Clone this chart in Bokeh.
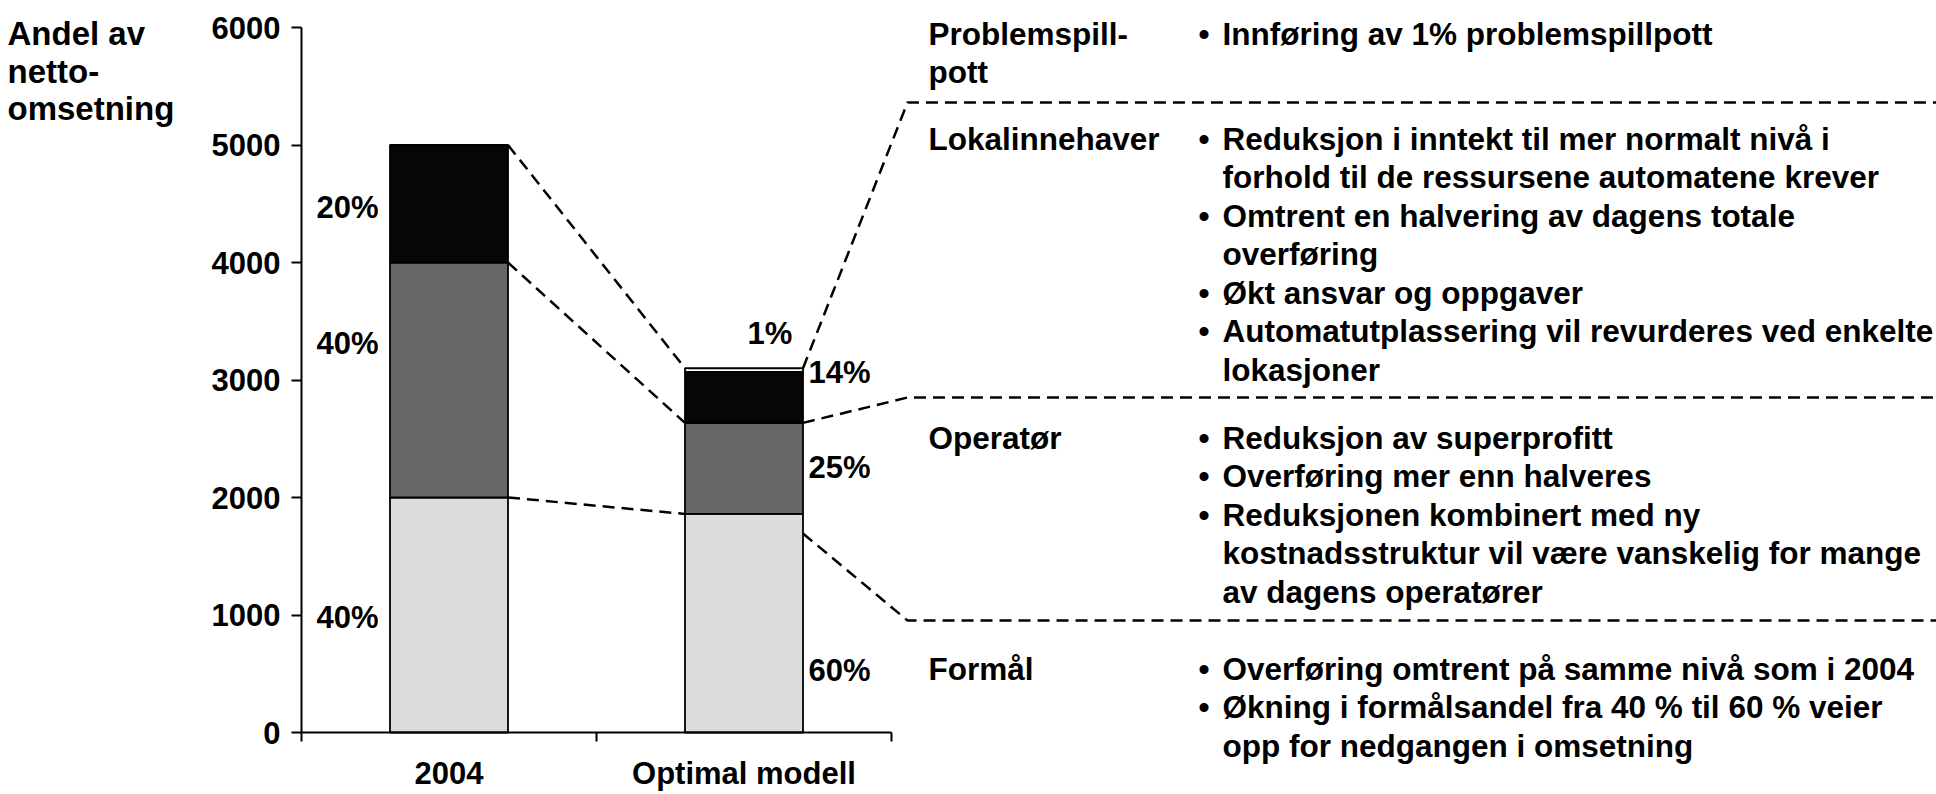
from bokeh.plotting import figure
from bokeh.models import Range1d, LinearAxis, FixedTicker, ColumnDataSource
from bokeh.embed import file_html
from bokeh.resources import INLINE
from bokeh.core.properties import value

# ---------------- data ----------------
categories = ["2004", "Optimal modell"]
formal = [2000, 1860]          # Formål
operator = [2000, 775]         # Operatør
lokal = [1000, 434]            # Lokalinnehaver
pott = [0, 31]                 # Problemspillpott
y_ticks = [0, 1000, 2000, 3000, 4000, 5000, 6000]
y_title = ["Andel av", "netto-", "omsetning"]

groups = ["Problemspill-\npott", "Lokalinnehaver", "Operatør", "Formål"]
bullets = [
    [["Innføring av 1% problemspillpott"]],
    [["Reduksjon i inntekt til mer normalt nivå i", "forhold til de ressursene automatene krever"],
     ["Omtrent en halvering av dagens totale", "overføring"],
     ["Økt ansvar og oppgaver"],
     ["Automatutplassering vil revurderes ved enkelte", "lokasjoner"]],
    [["Reduksjon av superprofitt"],
     ["Overføring mer enn halveres"],
     ["Reduksjonen kombinert med ny", "kostnadsstruktur vil være vanskelig for mange", "av dagens operatører"]],
    [["Overføring omtrent på samme nivå som i 2004"],
     ["Økning i formålsandel fra 40 % til 60 % veier", "opp for nedgangen i omsetning"]],
]

# ---------------- layout ----------------
W, H = 1936, 794
AX_X = 301          # pixel column of the value axis
AX_Y0 = 732         # pixel row of value 0
PX_PER_K = 117.5    # pixels per 1000
SLOT = 295          # pixels per category slot
BAR_W = 0.4
FONT = value("Liberation Sans")
FS = "31px"
FS_R = "31.5px"
FS_T = "33px"
DASH = "12 7"
DW = 2.5


def X(px):
    return (px - AX_X) / SLOT


def Y(py):
    return (AX_Y0 - py) / PX_PER_K * 1000.0


p = figure(width=W, height=H, output_backend="svg", toolbar_location=None,
           x_axis_type=None, y_axis_type=None,
           x_range=Range1d(X(0), X(W)), y_range=Range1d(Y(H), Y(0)),
           min_border=0, min_border_left=0, min_border_right=0,
           min_border_top=0, min_border_bottom=0)
p.outline_line_color = None
p.background_fill_color = "white"
p.border_fill_color = "white"
p.grid.visible = False

# ---------------- bars ----------------
xs = [i + 0.5 for i in range(len(categories))]
src = ColumnDataSource(dict(x=xs, formal=formal, operator=operator, lokal=lokal, pott=pott))
seg_names = ["formal", "operator", "lokal", "pott"]
seg_colors = ["#dcdcdc", "#676767", "#060606", "#ffffff"]
p.vbar_stack(seg_names, x="x", width=BAR_W, color=seg_colors, line_color="black",
             line_width=1.8, source=src)

# ---------------- axes ----------------
yaxis = LinearAxis(ticker=FixedTicker(ticks=y_ticks, minor_ticks=[]),
                   fixed_location=0, bounds=(y_ticks[0], y_ticks[-1]),
                   major_tick_out=10, major_tick_in=0, minor_tick_out=0, minor_tick_in=0,
                   major_tick_line_width=2, axis_line_width=2,
                   major_label_standoff=11,
                   major_label_text_font="Liberation Sans",
                   major_label_text_font_style="bold",
                   major_label_text_font_size=FS,
                   major_label_text_color="black")
p.add_layout(yaxis, "left")

xaxis = LinearAxis(ticker=FixedTicker(ticks=xs, minor_ticks=list(range(len(categories) + 1))),
                   fixed_location=0, bounds=(0, len(categories)),
                   major_label_overrides={x: c for x, c in zip(xs, categories)},
                   major_tick_out=0, major_tick_in=0,
                   minor_tick_out=9, minor_tick_in=0, minor_tick_line_width=2,
                   axis_line_width=2, major_label_standoff=14,
                   major_label_text_font="Liberation Sans",
                   major_label_text_font_style="bold",
                   major_label_text_font_size=FS,
                   major_label_text_color="black")
p.add_layout(xaxis, "below")

# ---------------- percentage labels ----------------
tot = [f + o + l + q for f, o, l, q in zip(formal, operator, lokal, pott)]
pct = lambda v, t: f"{round(100 * v / t)}%"
lab_x, lab_y, lab_t = [], [], []
for v, cy in zip([formal[0], operator[0], lokal[0]], [617, 343, 207]):
    lab_x.append(X(316)); lab_y.append(Y(cy)); lab_t.append(pct(v, tot[0]))
for v, cy in zip([formal[1], operator[1], lokal[1]], [670, 467, 372]):
    lab_x.append(X(808)); lab_y.append(Y(cy)); lab_t.append(pct(v, tot[1]))
lab_x.append(X(747)); lab_y.append(Y(333)); lab_t.append(pct(pott[1], tot[1]))
p.text(x=lab_x, y=lab_y, text=lab_t, text_font=FONT, text_font_style="bold",
       text_font_size=FS, text_color="black", text_baseline="alphabetic", text_align="left")

# ---------------- connector lines ----------------
cum0 = [formal[0], formal[0] + operator[0], formal[0] + operator[0] + lokal[0]]
cum1 = [formal[1], formal[1] + operator[1], formal[1] + operator[1] + lokal[1] + pott[1]]
r0 = xs[0] + BAR_W / 2
l1 = xs[1] - BAR_W / 2
r1 = xs[1] + BAR_W / 2
p.segment(x0=[r0] * 3, y0=cum0, x1=[l1] * 3, y1=cum1, line_color="black",
          line_width=DW, line_dash=DASH)

x_end = X(W)
bx = X(907)
p.line([r1, bx, x_end], [cum1[2], Y(102), Y(102)], line_color="black", line_width=DW, line_dash=DASH)
p.line([r1, bx, x_end], [cum1[1], Y(397), Y(397)], line_color="black", line_width=DW, line_dash=DASH)
p.line([r1, bx, x_end], [Y(533), Y(620), Y(620)], line_color="black", line_width=DW, line_dash=DASH)

# ---------------- right-hand text ----------------
LINE = 38.5
group_first = [33, 138, 437, 668]
gx, gy, gt = [], [], []
bx_, by_, bt_ = [], [], []
tx, ty, tt = [], [], []
for g, first, items in zip(groups, group_first, bullets):
    for k, part in enumerate(g.split("\n")):
        gx.append(X(928)); gy.append(Y(first + k * LINE)); gt.append(part)
    row = 0
    for item in items:
        bx_.append(X(1198)); by_.append(Y(first + row * LINE)); bt_.append("•")
        for line in item:
            tx.append(X(1222)); ty.append(Y(first + row * LINE)); tt.append(line)
            row += 1
for a, b, c in [(gx, gy, gt), (bx_, by_, bt_), (tx, ty, tt)]:
    p.text(x=a, y=b, text=c, text_font=FONT, text_font_style="bold", text_font_size=FS_R,
           text_color="black", text_baseline="alphabetic", text_align="left")

# ---------------- value-axis title ----------------
p.text(x=[X(7)] * len(y_title), y=[Y(33 + k * 37.5) for k in range(len(y_title))], text=y_title,
       text_font=FONT, text_font_style="bold", text_font_size=FS_T, text_color="black",
       text_baseline="alphabetic", text_align="left")

open("out.html", "w").write(file_html(p, INLINE))
